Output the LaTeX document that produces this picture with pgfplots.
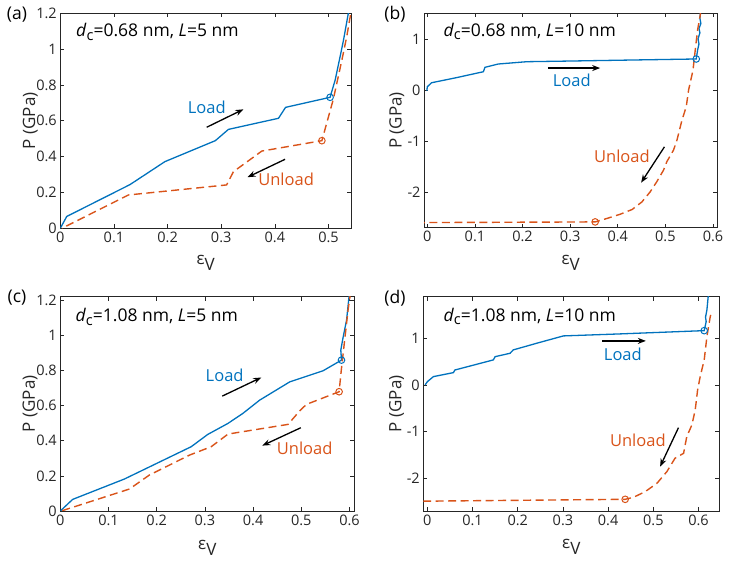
\documentclass[border=0pt]{standalone}
\usepackage{fontspec}
\setmainfont{Open Sans}
\usepackage{pgfplots}
\pgfplotsset{compat=1.18}
\usetikzlibrary{arrows.meta}
\definecolor{mblue}{rgb}{0,0.447,0.741}
\definecolor{morange}{rgb}{0.85,0.325,0.098}
\definecolor{axgray}{rgb}{0.15,0.15,0.15}
\newcommand{\epsv}{ε\raisebox{-0.35em}{V}}
\newcommand{\annot}{\fontsize{17.5pt}{20pt}\selectfont}
\newcommand{\lfont}{\fontsize{16.5pt}{18pt}\selectfont}
\tikzset{
  arr/.style={black, line width=1.3pt, -{Stealth[length=8pt,width=6pt]}},
  load/.style={mblue, line width=1.3pt},
  unload/.style={morange, line width=1.4pt, dash pattern=on 8pt off 4.5pt},
  bmark/.style={mblue, mark=o, mark size=3.3pt, line width=1pt},
  omark/.style={morange, mark=o, mark size=3.3pt, line width=1pt},
}
\pgfplotsset{
  panel/.style={
    scale only axis, anchor=south west,
    axis line style={axgray, line width=0.6pt},
    every tick/.style={axgray, line width=0.6pt},
    major tick length=4pt,
    tick align=inside,
    ticklabel style={font=\fontsize{14.5pt}{16pt}\selectfont, text=axgray},
    /pgf/number format/assume math mode=true,
    /pgf/number format/fixed,
    clip mode=individual,
    xlabel={\epsv},
    ylabel={P (GPa)},
    label style={font=\fontsize{17pt}{18pt}\selectfont, text=axgray},
  },
}
\begin{document}
\begin{tikzpicture}
\useasboundingbox (0,0) rectangle (729pt,564pt);
% (a)
\begin{axis}[panel, at={(60.3pt,335.7pt)}, width=290.7pt, height=215pt,
  xmin=0, xmax=0.542, ymin=0, ymax=1.2,
  xtick={0,0.1,0.2,0.3,0.4,0.5}, ytick={0,0.2,0.4,0.6,0.8,1,1.2},
  xlabel style={at={(axis description cs:0.5,-0.163)}, anchor=center},
  ylabel style={at={(axis description cs:-0.103,0.5)}, anchor=center}]
\addplot[load] coordinates {(0,0) (0.012,0.066) (0.130,0.244) (0.195,0.372) (0.289,0.489) (0.3135,0.552) (0.4068,0.614) (0.420,0.675) (0.503,0.731) (0.5125,0.828) (0.523,0.977) (0.528,1.05) (0.537,1.2) (0.540,1.25)};
\addplot[unload] coordinates {(0.541,1.19) (0.534,1.069) (0.525,0.939) (0.509,0.72) (0.4877,0.489) (0.3757,0.431) (0.3228,0.316) (0.310,0.242) (0.127,0.186) (0.003,0)};
\addplot[bmark, only marks] coordinates {(0.503,0.731)};
\addplot[omark, only marks] coordinates {(0.4877,0.489)};
\node[anchor=west, font=\annot] at (axis cs:0.0231,1.097) {\textit{d}\raisebox{-0.2em}{\fontsize{14.5pt}{14pt}\selectfont c}=0.68 nm, \textit{L}=5 nm};
\node[font=\lfont, text=mblue] at (axis cs:0.273,0.675) {Load};
\node[font=\lfont, text=morange] at (axis cs:0.421,0.275) {Unload};
\draw[arr] (axis cs:0.273,0.564) -- (axis cs:0.3414,0.664);
\draw[arr] (axis cs:0.419,0.385) -- (axis cs:0.349,0.285);
\end{axis}
% (b)
\begin{axis}[panel, at={(424pt,336.3pt)}, width=293.3pt, height=214.4pt,
  xmin=-0.007, xmax=0.609, ymin=-2.69, ymax=1.5,
  xtick={0,0.1,0.2,0.3,0.4,0.5,0.6}, ytick={-2,-1,0,1},
  xlabel style={at={(axis description cs:0.5,-0.166)}, anchor=center},
  ylabel style={at={(axis description cs:-0.093,0.5)}, anchor=center}]
\addplot[load] coordinates {(-0.001,-0.013) (0,0.065) (0.009,0.143) (0.06,0.24) (0.1177,0.358) (0.121,0.444) (0.149,0.509) (0.209,0.554) (0.30,0.567) (0.45,0.59) (0.5648,0.607) (0.5676,0.78) (0.5705,0.9) (0.5685,1.0) (0.5725,1.12) (0.5705,1.2) (0.5745,1.3) (0.5725,1.4) (0.574,1.55)};
\addplot[unload] coordinates {(0.5733,1.55) (0.5733,1.47) (0.5676,1.174) (0.5627,0.783) (0.558,0.39) (0.5487,0) (0.5438,-0.326) (0.5348,-0.587) (0.5243,-0.978) (0.517,-1.174) (0.503,-1.40) (0.496,-1.566) (0.482,-1.79) (0.468,-1.99) (0.4507,-2.186) (0.43,-2.335) (0.405,-2.427) (0.377,-2.51) (0.3525,-2.577) (-0.01,-2.59)};
\addplot[bmark, only marks] coordinates {(0.5648,0.607)};
\addplot[omark, only marks] coordinates {(0.3525,-2.577)};
\node[anchor=west, font=\annot] at (axis cs:0.0267,1.141) {\textit{d}\raisebox{-0.2em}{\fontsize{14.5pt}{14pt}\selectfont c}=0.68 nm, \textit{L}=10 nm};
\node[font=\lfont, text=mblue] at (axis cs:0.3035,0.196) {Load};
\node[font=\lfont, text=morange] at (axis cs:0.4087,-1.29) {Unload};
\draw[arr] (axis cs:0.253,0.43) -- (axis cs:0.363,0.43);
\draw[arr] (axis cs:0.498,-1.11) -- (axis cs:0.449,-1.81);
\end{axis}
% (c)
\begin{axis}[panel, at={(60.3pt,53pt)}, width=294pt, height=214.3pt,
  xmin=0, xmax=0.61, ymin=0, ymax=1.22,
  xtick={0,0.1,0.2,0.3,0.4,0.5,0.6}, ytick={0,0.2,0.4,0.6,0.8,1,1.2},
  xlabel style={at={(axis description cs:0.5,-0.174)}, anchor=center},
  ylabel style={at={(axis description cs:-0.103,0.5)}, anchor=center}]
\addplot[load] coordinates {(0,0) (0.0256,0.066) (0.133,0.182) (0.2716,0.366) (0.306,0.436) (0.3478,0.4985) (0.379,0.556) (0.4136,0.631) (0.476,0.735) (0.545,0.798) (0.5834,0.859) (0.582,0.916) (0.587,0.992) (0.594,1.087) (0.599,1.219) (0.600,1.25)};
\addplot[unload] coordinates {(0.602,1.25) (0.601,1.22) (0.597,1.143) (0.590,0.973) (0.583,0.802) (0.5785,0.679) (0.5107,0.607) (0.4968,0.57) (0.4725,0.493) (0.348,0.438) (0.313,0.366) (0.268,0.318) (0.185,0.205) (0.1434,0.125) (0.002,0)};
\addplot[bmark, only marks] coordinates {(0.5834,0.859)};
\addplot[omark, only marks] coordinates {(0.5785,0.679)};
\node[anchor=west, font=\annot] at (axis cs:0.0243,1.105) {\textit{d}\raisebox{-0.2em}{\fontsize{14.5pt}{14pt}\selectfont c}=1.08 nm, \textit{L}=5 nm};
\node[font=\lfont, text=mblue] at (axis cs:0.341,0.77) {Load};
\node[font=\lfont, text=morange] at (axis cs:0.507,0.357) {Unload};
\draw[arr] (axis cs:0.336,0.654) -- (axis cs:0.417,0.76);
\draw[arr] (axis cs:0.499,0.474) -- (axis cs:0.419,0.372);
\end{axis}
% (d)
\begin{axis}[panel, at={(423.3pt,53pt)}, width=296pt, height=214.3pt,
  xmin=-0.009, xmax=0.646, ymin=-2.7, ymax=1.89,
  xtick={0,0.1,0.2,0.3,0.4,0.5,0.6}, ytick={-2,-1,0,1},
  xlabel style={at={(axis description cs:0.5,-0.166)}, anchor=center},
  ylabel style={at={(axis description cs:-0.09,0.5)}, anchor=center}]
\addplot[load] coordinates {(-0.005,0) (0,0.07) (0.0133,0.178) (0.0576,0.264) (0.061,0.32) (0.146,0.536) (0.15,0.606) (0.183,0.678) (0.19,0.75) (0.242,0.893) (0.301,1.05) (0.4266,1.093) (0.6126,1.163) (0.617,1.357) (0.6155,1.45) (0.6186,1.607) (0.620,1.75) (0.622,1.95)};
\addplot[unload] coordinates {(0.627,1.5) (0.626,1.464) (0.6186,1.035) (0.6126,0.536) (0.6037,0.178) (0.598,-0.107) (0.5927,-0.536) (0.5853,-0.857) (0.574,-1.107) (0.567,-1.464) (0.548,-1.57) (0.53,-1.857) (0.508,-2.107) (0.482,-2.286) (0.456,-2.407) (0.4377,-2.45) (-0.01,-2.49)};
\addplot[bmark, only marks] coordinates {(0.6126,1.163)};
\addplot[omark, only marks] coordinates {(0.4377,-2.45)};
\node[anchor=west, font=\annot] at (axis cs:0.028,1.463) {\textit{d}\raisebox{-0.2em}{\fontsize{14.5pt}{14pt}\selectfont c}=1.08 nm, \textit{L}=10 nm};
\node[font=\lfont, text=mblue] at (axis cs:0.4326,0.657) {Load};
\node[font=\lfont, text=morange] at (axis cs:0.4658,-1.178) {Unload};
\draw[arr] (axis cs:0.3875,0.943) -- (axis cs:0.4835,0.943);
\draw[arr] (axis cs:0.5557,-0.915) -- (axis cs:0.515,-1.75);
\end{axis}
\node[font=\annot] at (17pt,549.5pt) {(a)};
\node[font=\annot] at (395pt,549.5pt) {(b)};
\node[font=\annot] at (17pt,266.3pt) {(c)};
\node[font=\annot] at (395pt,266pt) {(d)};
\end{tikzpicture}
\end{document}
